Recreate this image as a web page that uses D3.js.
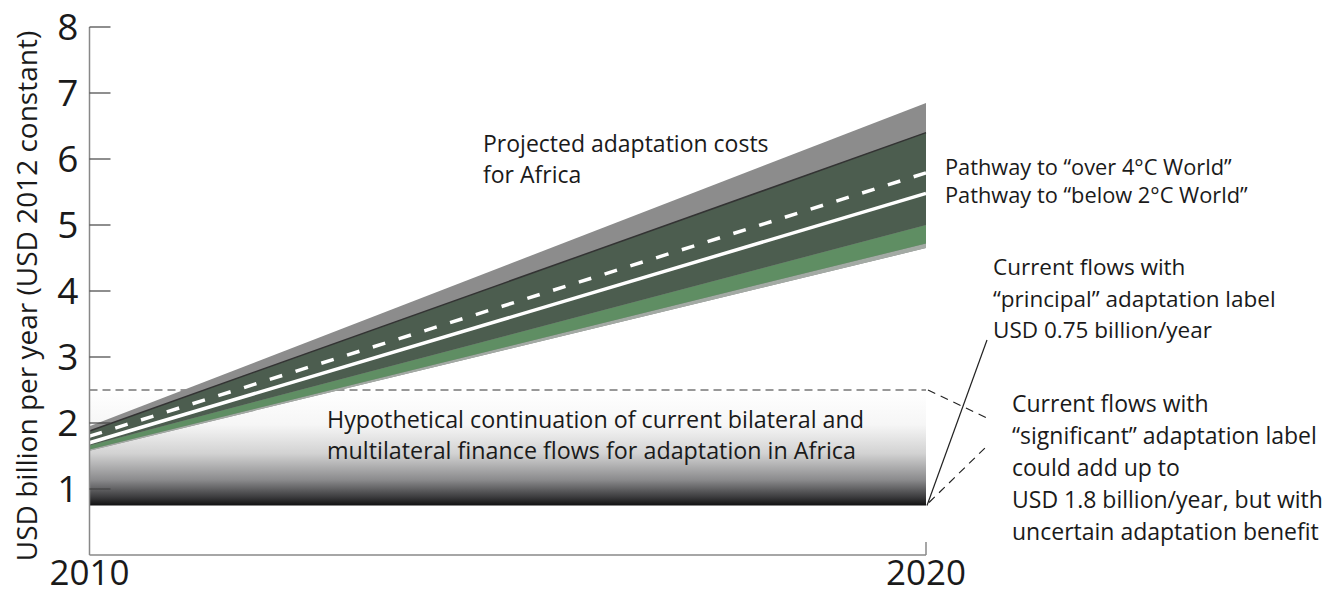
<!DOCTYPE html>
<html>
<head>
<meta charset="utf-8">
<script src="https://cdn.jsdelivr.net/npm/d3@7"></script>
<style>
  html, body { margin: 0; padding: 0; background: #fff; }
  svg { display: block; font-family: "Open Sans", "Noto Sans", sans-serif; }
</style>
</head>
<body>
<div id="chart"></div>
<script>
// values (USD billion per year)
const years = [2010, 2020];
const yTicks = [1, 2, 3, 4, 5, 6, 7, 8];

// projected adaptation cost envelope, at 2010 and 2020
const outerUpper = [1.95, 6.85];
const outerLower = [1.58, 4.65];
const coreUpper = [1.88, 6.40];
const coreLower = [1.66, 5.00];
const lowerStrip = [1.60, 4.72];
const pathwayOver4 = [1.80, 5.79];
const pathwayBelow2 = [1.70, 5.48];

// current flows
const principalFlow = 0.75;
const significantFlowTop = 2.5;

const yTitle = "USD billion per year (USD 2012 constant)";
const projectedLabel = ["Projected adaptation costs", "for Africa"];
const pathwayLabels = ["Pathway to \u201cover 4\u00b0C World\u201d", "Pathway to \u201cbelow 2\u00b0C World\u201d"];
const continuationLabel = ["Hypothetical continuation of current bilateral and",
  "multilateral finance flows for adaptation in Africa"];
const principalLabel = ["Current flows with", "\u201cprincipal\u201d adaptation label", "USD 0.75 billion/year"];
const significantLabel = ["Current flows with", "\u201csignificant\u201d adaptation label", "could add up to",
  "USD 1.8 billion/year, but with", "uncertain adaptation benefit"];

const width = 1328, height = 596;

const x = d3.scaleLinear().domain([2010, 2020]).range([89.5, 926]);
const y = d3.scaleLinear().domain([0, 8]).range([555, 27]);

const svg = d3.select("#chart").append("svg")
  .attr("width", width)
  .attr("height", height)
  .attr("viewBox", [0, 0, width, height]);

const defs = svg.append("defs");
const grad = defs.append("linearGradient")
  .attr("id", "flowGrad")
  .attr("x1", 0).attr("y1", 0).attr("x2", 0).attr("y2", 1);
[[0, "#ffffff"], [0.3, "#f6f6f6"], [0.55, "#d2d2d2"], [0.78, "#8a8a8c"], [0.93, "#3a3a3c"], [1, "#111111"]]
  .forEach(([o, c]) => grad.append("stop").attr("offset", o).attr("stop-color", c));

// hypothetical continuation block
svg.append("rect")
  .attr("x", x(2010))
  .attr("y", y(significantFlowTop))
  .attr("width", x(2020) - x(2010))
  .attr("height", y(principalFlow) - y(significantFlowTop))
  .attr("fill", "url(#flowGrad)");

svg.append("line")
  .attr("x1", x(2010)).attr("x2", x(2020))
  .attr("y1", y(significantFlowTop)).attr("y2", y(significantFlowTop))
  .attr("stroke", "#333").attr("stroke-width", 1.2)
  .attr("stroke-dasharray", "8,5");

// cost envelope
const pts = (lo, hi) => years.map((yr, i) => ({yr, lo: lo[i], hi: hi[i]}));
const area = d3.area().x(d => x(d.yr)).y0(d => y(d.lo)).y1(d => y(d.hi));
const line = (vals) => d3.line().x((d, i) => x(years[i])).y(d => y(d))(vals);

svg.append("path").attr("d", area(pts(outerLower, outerUpper))).attr("fill", "#8c8c8c");
svg.append("path").attr("d", area(pts(outerLower, lowerStrip))).attr("fill", "#a3aaa4");
svg.append("path").attr("d", area(pts(lowerStrip, coreLower))).attr("fill", "#5f8e63");
svg.append("path").attr("d", area(pts(coreLower, coreUpper))).attr("fill", "#4c5d4f");
svg.append("path").attr("d", line(coreUpper))
  .attr("fill", "none").attr("stroke", "#333").attr("stroke-width", 1.5);

svg.append("path").attr("d", line(pathwayBelow2))
  .attr("fill", "none").attr("stroke", "#fff").attr("stroke-width", 3.5);
svg.append("path").attr("d", line(pathwayOver4))
  .attr("fill", "none").attr("stroke", "#fff").attr("stroke-width", 3.5)
  .attr("stroke-dasharray", "13,14");

// axes
const axisG = svg.append("g");
axisG.append("line")
  .attr("x1", x(2010)).attr("x2", x(2010))
  .attr("y1", y(8)).attr("y2", y(0))
  .attr("stroke", "#888").attr("stroke-width", 1.5);
axisG.append("line")
  .attr("x1", x(2010)).attr("x2", x(2020))
  .attr("y1", y(0)).attr("y2", y(0))
  .attr("stroke", "#888").attr("stroke-width", 1.5);
axisG.append("line")
  .attr("x1", x(2020)).attr("x2", x(2020))
  .attr("y1", y(0)).attr("y2", y(0) - 13)
  .attr("stroke", "#888").attr("stroke-width", 1.5);

axisG.selectAll(".ytick").data(yTicks).join("line")
  .attr("class", "ytick")
  .attr("x1", x(2010)).attr("x2", x(2010) + 21)
  .attr("y1", d => y(d)).attr("y2", d => y(d))
  .attr("stroke", "#444").attr("stroke-width", 1.2);

axisG.selectAll(".ylab").data(yTicks).join("text")
  .attr("class", "ylab")
  .attr("x", x(2010) - 11)
  .attr("y", d => y(d))
  .attr("dy", "0.36em")
  .attr("text-anchor", "end")
  .attr("font-size", 37)
  .attr("fill", "#1a1a1a")
  .text(d => d);

axisG.selectAll(".xlab").data(years).join("text")
  .attr("class", "xlab")
  .attr("x", d => x(d))
  .attr("y", 585)
  .attr("text-anchor", "middle")
  .attr("font-size", 35)
  .attr("fill", "#1a1a1a")
  .text(d => d);

svg.append("text")
  .attr("transform", `translate(37,${(y(8) + y(0)) / 2 + 5}) rotate(-90)`)
  .attr("text-anchor", "middle")
  .attr("font-size", 28)
  .attr("fill", "#1a1a1a")
  .text(yTitle);

// labels
function block(lines, x0, y0, lh, size) {
  const t = svg.append("text")
    .attr("font-size", size)
    .attr("fill", "#1a1a1a");
  t.selectAll("tspan").data(lines).join("tspan")
    .attr("x", x0)
    .attr("y", (d, i) => y0 + i * lh)
    .text(d => d);
  return t;
}

block(projectedLabel, 483, 152, 31, 23);
block(pathwayLabels, 945, 175, 28, 21.8);
block(continuationLabel, 327, 428, 31, 23.3);
block(principalLabel, 993, 275, 31.5, 22.5);
block(significantLabel, 1012, 412, 32, 23);

// leader lines from the block's right edge
const xr = x(2020);
svg.append("line")
  .attr("x1", xr + 1).attr("y1", y(principalFlow))
  .attr("x2", 987).attr("y2", 340)
  .attr("stroke", "#222").attr("stroke-width", 1.2);
svg.append("line")
  .attr("x1", xr + 2).attr("y1", y(significantFlowTop))
  .attr("x2", 987).attr("y2", 418)
  .attr("stroke", "#222").attr("stroke-width", 1.2)
  .attr("stroke-dasharray", "8,6");
svg.append("line")
  .attr("x1", xr + 3).attr("y1", y(principalFlow) - 3)
  .attr("x2", 987).attr("y2", 446)
  .attr("stroke", "#222").attr("stroke-width", 1.2)
  .attr("stroke-dasharray", "8,6");
</script>
</body>
</html>
